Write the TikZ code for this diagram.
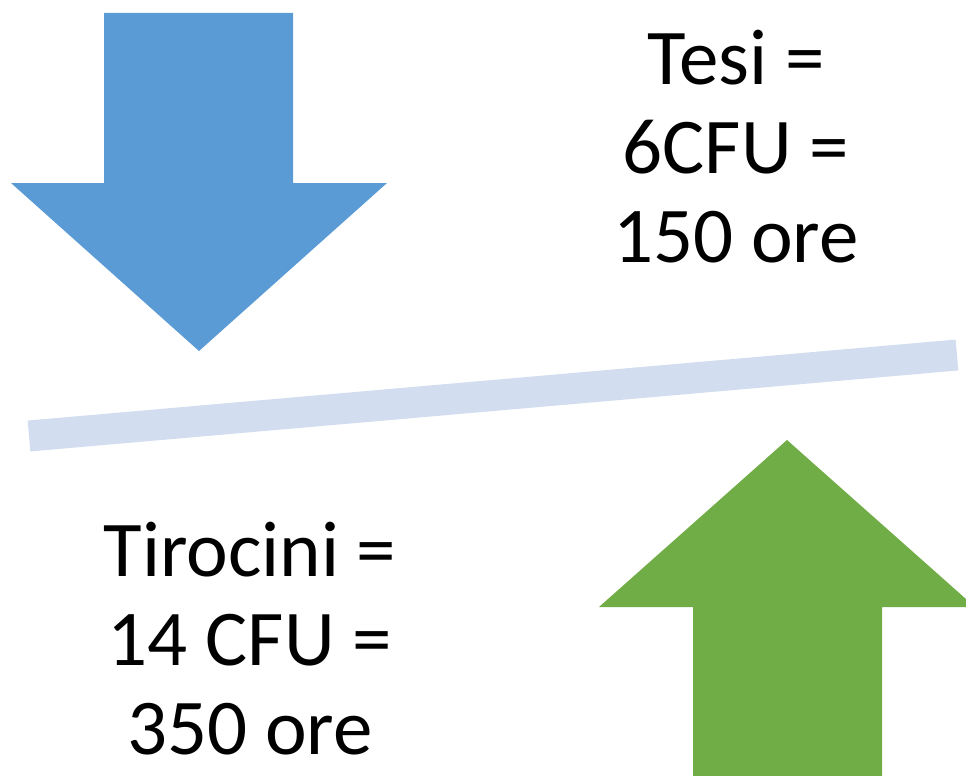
\documentclass[tikz,border=0pt]{standalone}
\usepackage{fontspec}
\setmainfont{Carlito}
\usepackage{tikz}
\definecolor{arrowblue}{RGB}{91,155,213}
\definecolor{arrowgreen}{RGB}{112,173,71}
\definecolor{barblue}{RGB}{210,222,239}

\begin{document}
\begin{tikzpicture}[x=1pt, y=-1pt,
	every arrow/.style={draw=none},
	down arrow/.style={every arrow, fill=arrowblue},
	up arrow/.style={every arrow, fill=arrowgreen},
	balance/.style={draw=barblue, line width=31pt, line cap=butt},
	every label/.style={align=center, inner sep=0pt, anchor=north,
		font=\fontsize{79}{89}\selectfont}]
	\useasboundingbox (0,0) rectangle (966,776);
	\clip (0,0) rectangle (966,776);
	\fill[down arrow] (104,13) -- (293,13) -- (293,183) -- (387,183) -- (199,351)
		-- (11,183) -- (104,183) -- cycle;
	\fill[up arrow] (693,776) -- (882,776) -- (882,607) -- (975,607) -- (787,440)
		-- (599,607) -- (693,607) -- cycle;
	\coordinate (bar-l) at (29,436);
	\coordinate (bar-r) at (957,355);
	\draw[balance] (bar-l) -- (bar-r);
	\node[every label] (tesi) at (736,30) {Tesi =\\6CFU =\\150 ore};
	\node[every label] (tirocini) at (250,522) {Tirocini =\\14 CFU =\\350 ore};
\end{tikzpicture}
\end{document}
